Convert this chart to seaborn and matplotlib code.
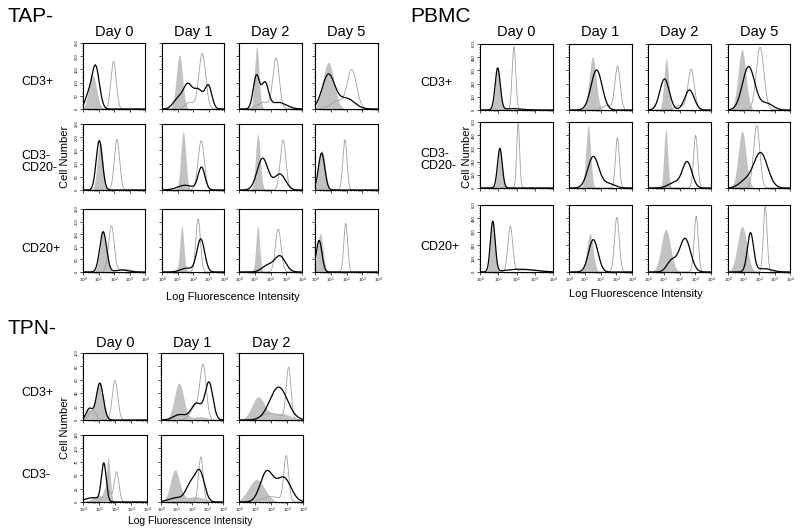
import numpy as np
import pandas as pd
import matplotlib
matplotlib.use("Agg")
import matplotlib.pyplot as plt
import seaborn as sns
from matplotlib.ticker import FixedLocator, MultipleLocator

sns.set_style("white")
plt.rcParams["font.family"] = ["Liberation Sans", "DejaVu Sans"]
plt.rcParams["text.color"] = "black"
plt.rcParams["xtick.color"] = "black"
plt.rcParams["ytick.color"] = "black"

# ---------------- data (peaks) ----------------
# each curve = list of (log10 centre, log10 width, height in cell counts)
DAYS_4 = ["Day 0", "Day 1", "Day 2", "Day 5"]
DAYS_3 = ["Day 0", "Day 1", "Day 2"]
TAP_ROWS = ["CD3+", "CD3-\nCD20-", "CD20+"]
PBMC_ROWS = ["CD3+", "CD3-\nCD20-", "CD20+"]
TPN_ROWS = ["CD3+", "CD3-"]
X_TICK_LABELS = [r"$10^{0}$", r"$10^{1}$", r"$10^{2}$", r"$10^{3}$", r"$10^{4}$"]

TAP_YMAX = [250, 250, 250]
TAP_YSTEP = [50, 50, 50]
PBMC_YMAX = [600, 600, 600]
PBMC_YSTEP = [120, 120, 120]
TPN_YMAX = [100, 125]
TPN_YSTEP = [20, 25]

# isotype control (grey filled)
TAP_FILL = [
    [[(0.62, 0.25, 130)], [(1.12, 0.20, 205)], [(1.13, 0.14, 237)], [(0.85, 0.35, 177)]],
    [[(1.10, 0.18, 183)], [(1.37, 0.16, 222)], [(1.20, 0.15, 212)], [(0.45, 0.20, 150)]],
    [[(1.30, 0.20, 160)], [(1.28, 0.13, 183)], [(1.19, 0.12, 183)], [(0.33, 0.18, 153)]],
]
# patient / test (black line)
TAP_BLACK = [
    [[(0.80, 0.25, 165), (0.30, 0.20, 40)],
     [(1.00, 0.30, 35), (1.65, 0.30, 90), (2.35, 0.30, 70), (3.00, 0.22, 85)],
     [(1.10, 0.20, 125), (1.65, 0.22, 95), (2.50, 0.50, 25)],
     [(0.85, 0.40, 130), (2.00, 0.50, 40)]],
    [[(1.05, 0.20, 187)],
     [(2.55, 0.22, 85), (1.50, 0.50, 18)],
     [(1.50, 0.35, 120), (2.60, 0.35, 60)],
     [(0.42, 0.20, 140)]],
    [[(1.30, 0.22, 160), (2.50, 0.40, 8)],
     [(2.50, 0.25, 130), (1.60, 0.40, 15)],
     [(2.60, 0.35, 63), (1.80, 0.35, 25)],
     [(0.26, 0.18, 125)]],
]
# normal control (thin grey line)
TAP_GREY = [
    [[(1.97, 0.17, 180)], [(2.60, 0.22, 210), (1.80, 0.30, 25)],
     [(2.36, 0.20, 190), (1.60, 0.40, 25)], [(2.34, 0.30, 148), (1.40, 0.40, 30)]],
    [[(2.19, 0.17, 192)], [(2.53, 0.20, 187)], [(2.80, 0.18, 188)], [(1.90, 0.13, 190)]],
    [[(1.83, 0.18, 183), (2.70, 0.40, 10)], [(2.33, 0.15, 210)],
     [(2.49, 0.18, 170)], [(1.95, 0.12, 193)]],
]

PBMC_FILL = [
    [[(0.97, 0.13, 379)], [(1.50, 0.22, 485)], [(1.16, 0.15, 464)], [(0.90, 0.25, 550)]],
    [[(1.09, 0.12, 360)], [(1.22, 0.15, 570)], [(1.13, 0.12, 540)], [(0.91, 0.25, 518)]],
    [[(0.70, 0.12, 450)], [(1.33, 0.20, 345)], [(1.13, 0.30, 380)], [(0.91, 0.30, 410)]],
]
PBMC_BLACK = [
    [[(0.97, 0.14, 380), (1.80, 0.50, 12)],
     [(1.75, 0.35, 364)],
     [(1.05, 0.30, 282), (2.63, 0.30, 182)],
     [(1.33, 0.40, 394), (2.50, 0.40, 60)]],
    [[(1.09, 0.13, 360)],
     [(1.54, 0.35, 285), (2.50, 0.40, 40)],
     [(2.49, 0.30, 234), (1.70, 0.40, 50)],
     [(2.10, 0.45, 320), (1.10, 0.40, 60)]],
    [[(0.70, 0.13, 450), (2.20, 0.80, 25)],
     [(1.54, 0.30, 290)],
     [(2.35, 0.35, 300), (1.50, 0.30, 100)],
     [(1.45, 0.20, 345), (2.30, 0.50, 30)]],
]
PBMC_GREY = [
    [[(1.86, 0.10, 576)], [(3.08, 0.17, 394), (2.40, 0.30, 40)],
     [(2.74, 0.20, 370), (2.00, 0.30, 40)], [(2.07, 0.25, 570)]],
    [[(2.09, 0.08, 585)], [(3.07, 0.12, 455)], [(3.02, 0.13, 478)], [(1.85, 0.20, 570)]],
    [[(1.66, 0.13, 405), (2.60, 0.60, 20)], [(3.04, 0.15, 490)],
     [(3.06, 0.13, 500)], [(2.40, 0.12, 590)]],
]

TPN_FILL = [
    [[(1.03, 0.25, 54), (0.30, 0.20, 15)], [(1.16, 0.30, 55), (2.50, 0.50, 5)],
     [(1.20, 0.40, 34), (2.60, 0.60, 10)]],
    [[(1.58, 0.12, 79), (1.00, 0.40, 12)], [(0.90, 0.30, 59), (2.20, 0.60, 10)],
     [(1.10, 0.50, 42)]],
]
TPN_BLACK = [
    [[(1.05, 0.22, 55), (0.40, 0.20, 17)],
     [(2.30, 0.35, 25), (3.10, 0.25, 55), (1.20, 0.40, 8)],
     [(2.48, 0.55, 49)]],
    [[(1.30, 0.15, 70), (0.60, 0.50, 8)],
     [(2.50, 0.30, 56), (1.90, 0.30, 30), (1.00, 0.50, 8)],
     [(1.73, 0.40, 56), (2.80, 0.45, 45)]],
]
TPN_GREY = [
    [[(2.00, 0.17, 59), (0.60, 0.20, 15)], [(2.72, 0.20, 79), (2.20, 0.30, 20)],
     [(3.10, 0.15, 77), (2.00, 0.60, 10)]],
    [[(2.10, 0.15, 56), (1.50, 0.20, 25)], [(2.57, 0.15, 84)],
     [(2.95, 0.15, 84), (2.00, 0.60, 10)]],
]

# ---------------- layout (pixels) ----------------
W, H = 800, 530
TAP_COLS = [(83, 145), (162, 224), (239, 302), (315, 378)]
TAP_ROWS_PX = [(43, 109), (124, 190), (209, 272)]
PBMC_COLS = [(480, 553), (569, 632), (648, 711), (728, 790)]
PBMC_ROWS_PX = [(44, 110), (122, 188), (205, 272)]
TPN_COLS = [(83, 147), (161, 223), (239, 303)]
TPN_ROWS_PX = [(353, 420), (435, 502)]

XGRID = np.linspace(0, 4, 401)

fig = plt.figure(figsize=(W / 100, H / 100), dpi=100)


def curve(peaks):
    y = np.zeros_like(XGRID)
    for c, s, h in peaks:
        y += h * np.exp(-0.5 * ((XGRID - c) / s) ** 2)
    return y


def panel(xp, yp, fill, black, grey, ymax, ystep, first_col, last_row):
    ax = fig.add_axes([xp[0] / W, 1 - yp[1] / H, (xp[1] - xp[0]) / W, (yp[1] - yp[0]) / H])
    df = pd.DataFrame({"x": XGRID, "fill": curve(fill), "black": curve(black),
                       "grey": curve(grey)})
    ax.fill_between(df["x"], 0, df["fill"], color="#c2c2c2", lw=0)
    sns.lineplot(data=df, x="x", y="grey", color="#a0a0a0", lw=0.6, ax=ax)
    sns.lineplot(data=df, x="x", y="black", color="black", lw=0.9, ax=ax)
    ax.set_xlim(0, 4)
    ax.set_ylim(0, ymax)
    ax.set_xlabel("")
    ax.set_ylabel("")
    ax.xaxis.set_major_locator(FixedLocator([0, 1, 2, 3, 4]))
    minors = [d + np.log10(k) for d in range(4) for k in range(2, 10)]
    ax.xaxis.set_minor_locator(FixedLocator(minors))
    ax.yaxis.set_major_locator(MultipleLocator(ystep))
    ax.yaxis.set_minor_locator(MultipleLocator(ystep / 5))
    ax.tick_params(which="major", length=2, width=0.5, labelsize=3, pad=1,
                   bottom=True, left=True, direction="out")
    ax.tick_params(which="minor", length=1, width=0.4, bottom=True, left=True,
                   direction="out")
    if last_row:
        ax.set_xticklabels(X_TICK_LABELS)
    else:
        ax.set_xticklabels([])
    if first_col:
        ax.set_yticks(np.arange(0, ymax + 1, ystep))
        ax.set_yticklabels([str(int(v)) for v in np.arange(0, ymax + 1, ystep)],
                           rotation=90, va="center")
    else:
        ax.set_yticklabels([])
    for sp in ax.spines.values():
        sp.set_visible(True)
        sp.set_color("black")
        sp.set_linewidth(0.8)
    return ax


def section(cols, rows, fills, blacks, greys, ymaxs, ysteps):
    nr = len(rows)
    for i, yp in enumerate(rows):
        for j, xp in enumerate(cols):
            panel(xp, yp, fills[i][j], blacks[i][j], greys[i][j], ymaxs[i], ysteps[i],
                  j == 0, i == nr - 1)


section(TAP_COLS, TAP_ROWS_PX, TAP_FILL, TAP_BLACK, TAP_GREY, TAP_YMAX, TAP_YSTEP)
section(PBMC_COLS, PBMC_ROWS_PX, PBMC_FILL, PBMC_BLACK, PBMC_GREY, PBMC_YMAX, PBMC_YSTEP)
section(TPN_COLS, TPN_ROWS_PX, TPN_FILL, TPN_BLACK, TPN_GREY, TPN_YMAX, TPN_YSTEP)


def txt(x, y, s, size, ha="center", rot=0):
    fig.text(x / W, 1 - y / H, s, fontsize=size, ha=ha, va="center", rotation=rot,
             linespacing=1.0, color="black")


# titles
txt(8, 17, "TAP-", 15, ha="left")
txt(410, 17, "PBMC", 15, ha="left")
txt(8, 328, "TPN-", 15, ha="left")

# day headers
for (x0, x1), d in zip(TAP_COLS, DAYS_4):
    txt((x0 + x1) / 2, 32, d, 10.5)
for (x0, x1), d in zip(PBMC_COLS, DAYS_4):
    txt((x0 + x1) / 2, 32, d, 10.5)
for (x0, x1), d in zip(TPN_COLS, DAYS_3):
    txt((x0 + x1) / 2, 343, d, 10.5)

# row labels
ROW_SHIFT = [6, 5, 8]
for k, ((y0, y1), r) in enumerate(zip(TAP_ROWS_PX, TAP_ROWS)):
    txt(21, (y0 + y1) / 2 + ROW_SHIFT[k], r, 9, ha="left")
for k, ((y0, y1), r) in enumerate(zip(PBMC_ROWS_PX, PBMC_ROWS)):
    txt(420, (y0 + y1) / 2 + ROW_SHIFT[k], r, 9, ha="left")
for k, ((y0, y1), r) in enumerate(zip(TPN_ROWS_PX, TPN_ROWS)):
    txt(21, (y0 + y1) / 2 + 6, r, 9, ha="left")

# axis titles
txt(65, 157, "Cell Number", 8, rot=90)
txt(467, 157, "Cell Number", 8, rot=90)
txt(65, 428, "Cell Number", 8, rot=90)
txt(233, 297, "Log Fluorescence Intensity", 8)
txt(636, 294, "Log Fluorescence Intensity", 8)
txt(190, 521, "Log Fluorescence Intensity", 7.5)

fig.savefig("out.png", dpi=100)
